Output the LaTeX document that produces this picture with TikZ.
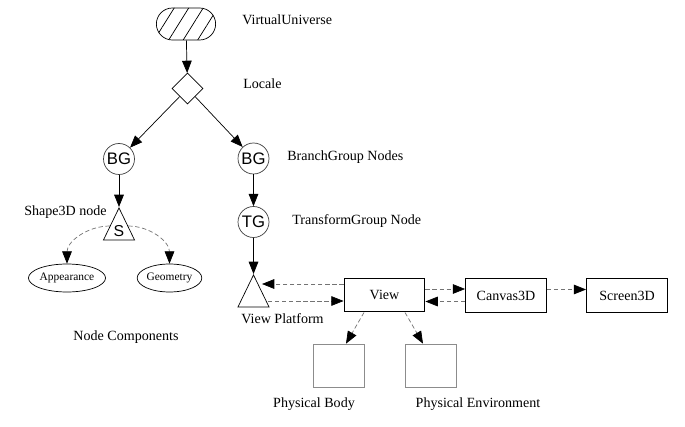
\documentclass[tikz,border=0pt]{standalone}
\usepackage{fontspec}
\setmainfont{Liberation Serif}
\setsansfont{Liberation Sans}
\usepackage{tikz}
\usetikzlibrary{arrows.meta,shapes.geometric,shapes.misc,patterns.meta,calc}
\tikzset{
  txt/.style={font=\fontsize{8}{9.5}\selectfont},
  lbl/.style={txt,anchor=west,inner sep=0},
  vuniv/.style={rounded rectangle,draw,pattern={Lines[angle=58,distance=7pt]},minimum width=1.42cm,minimum height=0.64cm},
  locale/.style={diamond,draw,inner sep=0,minimum size=0.62cm},
  grp/.style={circle,draw=black!75,inner sep=0,minimum size=0.62cm,font=\sffamily\fontsize{9.5}{10}\selectfont},
  leaf/.style={isosceles triangle,shape border rotate=90,isosceles triangle stretches,draw,inner sep=0,
    minimum width=0.62cm,minimum height=0.64cm,font=\sffamily\fontsize{9}{10}\selectfont},
  comp/.style={ellipse,draw,inner sep=0,minimum width=1.24cm,minimum height=0.56cm,font=\fontsize{6.5}{7}\selectfont},
  obj/.style={draw,line width=0.8pt,txt,minimum width=1.61cm,minimum height=0.67cm},
  phys/.style={draw=black!45,minimum width=1.02cm,minimum height=0.86cm},
  arr/.style={-{Triangle[length=7pt,width=5.5pt]}},
  dsh/.style={-{Triangle[length=7pt,width=5.5pt,color=black]},draw=black!55,dash pattern=on 2.5pt off 1.5pt}
}
\begin{document}
\begin{tikzpicture}[x=0.02cm,y=0.02cm]
\useasboundingbox (0,0) rectangle (685,426);
\node[vuniv] (vu) at (186,402) {};
\node[lbl] (vutxt) at (242,406) {VirtualUniverse};
\node[locale] (loc) at (187.5,337.5) {};
\node[lbl] (loctxt) at (243,342) {Locale};
\node[grp] (bgl) at (119,267) {BG};
\node[grp] (bgr) at (253.5,267.5) {BG};
\node[lbl] (bgtxt) at (287,269) {BranchGroup Nodes};
\node[grp] (tg) at (253.5,204) {TG};
\node[lbl] (tgtxt) at (292,205) {TransformGroup Node};
\node[leaf,anchor=apex] (s) at (119,219) {S};
\node[txt,anchor=east,inner sep=0] (stxt) at (107,214) {Shape3D node};
\node[comp] (app) at (67,148) {Appearance};
\node[comp] (geo) at (169.5,148) {Geometry};
\node[txt] (nctxt) at (126,89) {Node Components};
\node[leaf,anchor=apex] (vp) at (253.5,152) {};
\node[lbl] (vptxt) at (241,107) {View Platform};
\node[obj] (view) at (384.5,131) {View};
\node[obj] (canvas) at (506,130.5) {Canvas3D};
\node[obj] (screen) at (627,130.5) {Screen3D};
\node[phys] (pb) at (338.5,60.5) {};
\node[phys] (pe) at (430.5,60.5) {};
\node[txt] (pbtxt) at (314,22) {Physical Body};
\node[txt] (petxt) at (478,22) {Physical Environment};
\coordinate (vpin) at (262,142);
\coordinate (vpout) at (268,125);
\draw[arr] (vu) -- (loc);
\draw[arr] (loc) -- (bgl);
\draw[arr] (loc) -- (bgr);
\draw[arr] (bgl) -- (s.apex);
\draw[arr] (bgr) -- (tg);
\draw[arr] (tg) -- (vp.apex);
\draw[dsh] (s.150) to[out=180,in=90] (app.north);
\draw[dsh] (s.30) to[out=0,in=90] (geo.north);
\draw[dsh] (view.west|-vpin) -- (vpin);
\draw[dsh] (vpout) -- (view.west|-vpout);
\draw[dsh] ([yshift=0.12cm]view.east) -- ([yshift=0.12cm]view.east-|canvas.west);
\draw[dsh] ([yshift=-0.12cm]canvas.west) -- ([yshift=-0.12cm]canvas.west-|view.east);
\draw[dsh] ([yshift=0.12cm]canvas.east) -- ([yshift=0.12cm]canvas.east-|screen.west);
\draw[dsh] ([xshift=-0.41cm]view.south) -- ([xshift=0.15cm]pb.north);
\draw[dsh] ([xshift=0.41cm]view.south) -- ([xshift=-0.15cm]pe.north);
\end{tikzpicture}
\end{document}
